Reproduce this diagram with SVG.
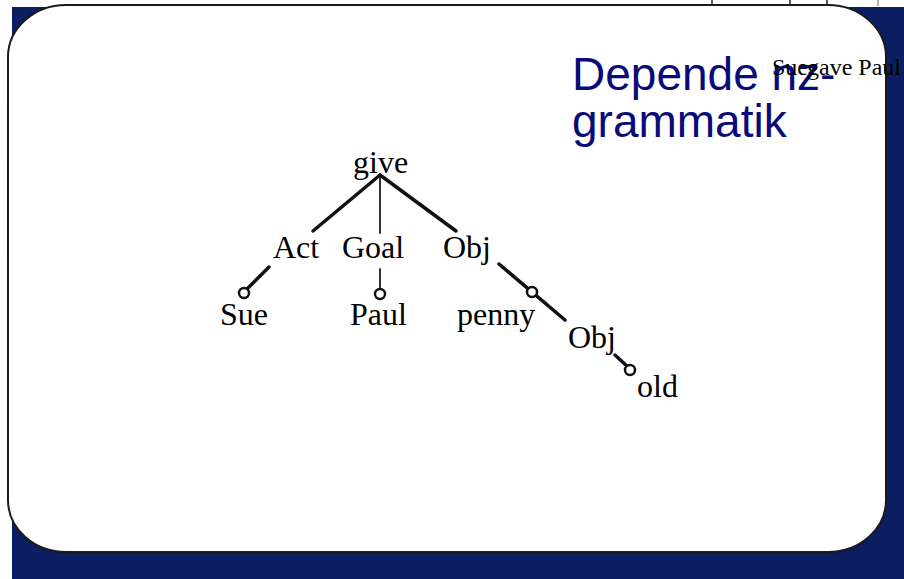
<svg xmlns="http://www.w3.org/2000/svg" width="904" height="579" viewBox="0 0 904 579">
  <style>
    .lbl { font-family: "Liberation Serif", "Times New Roman", serif; font-size: 32px; fill: #000; }
    .title { font-family: "Liberation Sans", Arial, sans-serif; font-size: 46px; fill: #0a0a7a; }
    .small { font-family: "Liberation Serif", "Times New Roman", serif; font-size: 24px; fill: #000; }
    .edge { stroke: #111; stroke-linecap: round; fill: none; }
    .thick { stroke-width: 3.5; }
    .thin { stroke-width: 2; stroke: #333; }
    .ring { fill: #fff; stroke: #111; stroke-width: 2.5; }
  </style>
  <rect x="0" y="0" width="904" height="579" fill="#ffffff"/>
  <rect x="12" y="7" width="892" height="572" fill="#0b1e62"/>
  <g id="tabs" stroke="#222" stroke-width="1.5">
    <line x1="712" y1="0" x2="712" y2="6"/>
    <line x1="790" y1="0" x2="790" y2="6"/>
    <line x1="827" y1="0" x2="827" y2="6"/>
    <line x1="878" y1="0" x2="878" y2="6" stroke="#999"/>
  </g>
  <rect id="panel" x="8" y="5" width="878" height="547" rx="58" ry="52" fill="#ffffff" stroke="#1a1a1a" stroke-width="2"/>

  <g id="title">
    <text class="title" x="572" y="90">Depende nz-</text>
    <text class="title" x="572" y="137">grammatik</text>
  </g>
  <g id="caption">
    <text class="small" x="772" y="75">Sue <tspan x="807">gave Paul</tspan></text>
  </g>

  <g id="connectors">
    <line class="edge thick" x1="380" y1="175" x2="313" y2="231"/>
    <line class="edge thin" x1="380" y1="175" x2="380" y2="233"/>
    <line class="edge thick" x1="380" y1="175" x2="456" y2="231"/>
    <line class="edge thick" x1="269" y1="267" x2="247" y2="289"/>
    <circle class="ring" cx="244" cy="293" r="5"/>
    <line class="edge thin" x1="380" y1="269" x2="380" y2="289"/>
    <circle class="ring" cx="380" cy="294" r="5"/>
    <line class="edge thick" x1="499" y1="264" x2="565" y2="320"/>
    <circle class="ring" cx="532" cy="292" r="5"/>
    <line class="edge thick" x1="615" y1="355" x2="628" y2="367"/>
    <circle class="ring" cx="630" cy="370" r="5"/>
  </g>

  <g id="node-give"><text class="lbl" x="353" y="173">give</text></g>
  <g id="node-act"><text class="lbl" x="273" y="258">Act</text></g>
  <g id="node-goal"><text class="lbl" x="342" y="258">Goal</text></g>
  <g id="node-obj"><text class="lbl" x="443" y="258">Obj</text></g>
  <g id="node-sue"><text class="lbl" x="220" y="325">Sue</text></g>
  <g id="node-paul"><text class="lbl" x="350" y="325">Paul</text></g>
  <g id="node-penny"><text class="lbl" x="457" y="325">penny</text></g>
  <g id="node-obj2"><text class="lbl" x="568" y="348">Obj</text></g>
  <g id="node-old"><text class="lbl" x="637" y="397">old</text></g>
</svg>
